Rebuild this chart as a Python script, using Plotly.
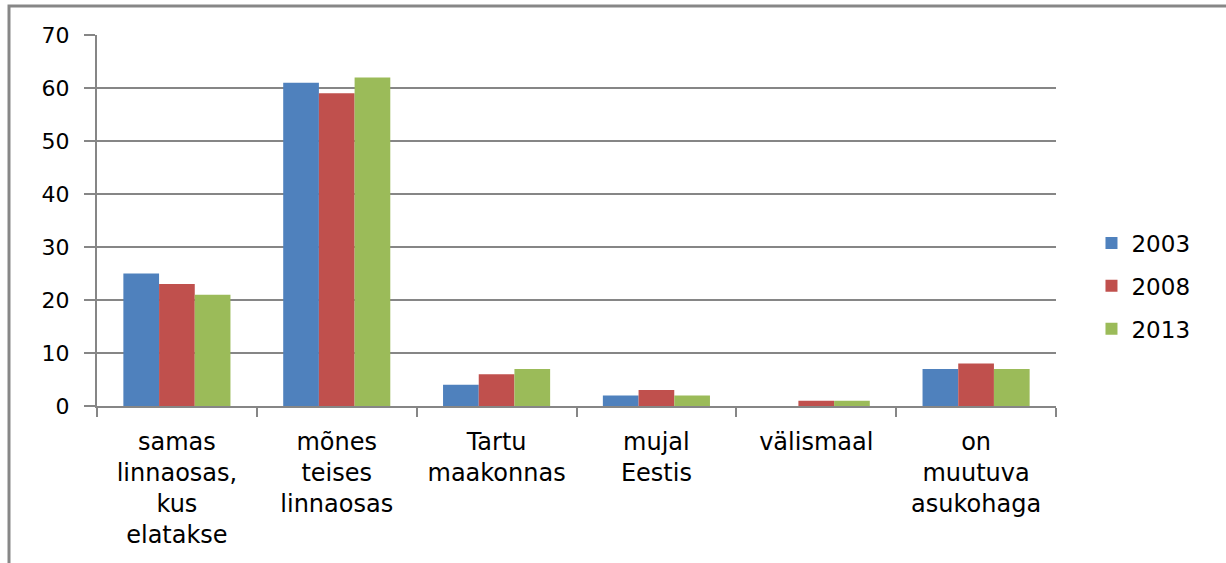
import plotly.graph_objects as go

categories = [
    "samas<br>linnaosas,<br>kus<br>elatakse",
    "mõnes<br>teises<br>linnaosas",
    "Tartu<br>maakonnas",
    "mujal<br>Eestis",
    "välismaal",
    "on<br>muutuva<br>asukohaga",
]
series_names = ["2003", "2008", "2013"]
values_2003 = [25, 61, 4, 2, 0, 7]
values_2008 = [23, 59, 6, 3, 1, 8]
values_2013 = [21, 62, 7, 2, 1, 7]
colors = ["#4F81BD", "#C0504D", "#9BBB59"]

y_ticks = [0, 10, 20, 30, 40, 50, 60, 70]

W, H = 1226, 563
L, R, T, B = 97, 170, 35, 157
GRID = "#868686"
FONT = "DejaVu Sans"

fig = go.Figure()
for name, vals, col in zip(series_names, [values_2003, values_2008, values_2013], colors):
    fig.add_trace(go.Bar(
        name=name, x=categories, y=vals, marker=dict(color=col, line=dict(width=0)),
        legendgroup=name,
    ))

pw = W - L - R
ph = H - T - B
fx = (9 - L) / pw
fy = (H - B - 6) / ph

fig.update_layout(
    width=W, height=H,
    margin=dict(l=L, r=R, t=T, b=B, autoexpand=False),
    paper_bgcolor="white", plot_bgcolor="white",
    barmode="group", bargap=0.33, bargroupgap=0,
    font=dict(family=FONT, color="black"),
    legend=dict(
        x=1.037, y=(H - B - 286) / ph, xanchor="left", yanchor="middle",
        font=dict(size=23, family=FONT, color="black"),
        tracegroupgap=10, itemwidth=30,
    ),
    xaxis=dict(
        showline=True, linecolor=GRID, linewidth=2,
        ticks="outside", tickson="boundaries", ticklen=9, tickcolor=GRID, tickwidth=2,
        tickfont=dict(size=24, family=FONT, color="black"),
        ticklabelstandoff=13,
        showgrid=False,
    ),
    yaxis=dict(
        range=[0, 70], tickvals=y_ticks,
        showline=True, linecolor=GRID, linewidth=2,
        ticks="outside", ticklen=11, tickcolor=GRID, tickwidth=2,
        showgrid=True, gridcolor=GRID, gridwidth=1.5,
        tickfont=dict(size=22, family=FONT, color="black"),
        ticklabelstandoff=10,
        zeroline=False,
    ),
    shapes=[dict(
        type="path", xref="paper", yref="paper",
        path=f"M {fx} -1 L {fx} {fy} L 1.3 {fy}",
        line=dict(color="#878787", width=3),
    )],
)

fig.write_html(
    "out.html",
    config={"displayModeBar": False},
    post_script="document.body.style.margin='0';",
)
